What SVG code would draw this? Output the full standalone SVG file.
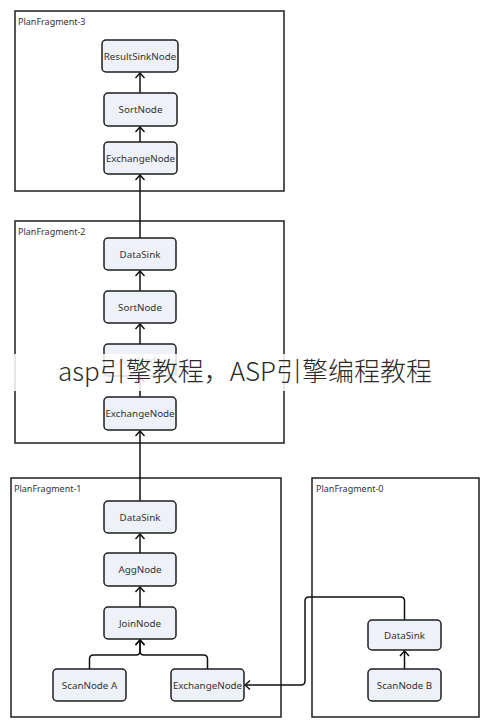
<svg xmlns="http://www.w3.org/2000/svg" width="490" height="728" viewBox="0 0 490 728">
<defs>
<style>
.frame{fill:none;stroke:#1e1e1e;stroke-width:1.5}
.flabel{font-family:"Noto Sans","Open Sans",sans-serif;font-size:9px;fill:#333}
.node rect{fill:#eef1f7;stroke:#1e1e1e;stroke-width:1.5}
.node text{font-family:"Noto Sans","Open Sans",sans-serif;font-size:9.8px;fill:#333;text-anchor:middle;dominant-baseline:central}
.conn{fill:none;stroke:#111;stroke-width:1.5;marker-end:url(#arr)}
.wm{font-family:"Noto Sans CJK SC","Noto Sans",sans-serif;font-size:26px;font-weight:300;fill:#2a2a2a}
</style>
<marker id="arr" viewBox="-7 -6 8 12" refX="0" refY="0" markerWidth="8" markerHeight="12" markerUnits="userSpaceOnUse" orient="auto">
<path d="M-5,-4.5 L0,0 L-5,4.5" fill="none" stroke="#111" stroke-width="1.5"/>
</marker>
</defs>
<rect width="490" height="728" fill="#fff"/>

<g id="fragment3">
<rect class="frame" x="15" y="11" width="269" height="180"/>
<text class="flabel" x="18" y="25">PlanFragment-3</text>
</g>
<g id="fragment2">
<rect class="frame" x="15" y="221" width="269" height="222"/>
<text class="flabel" x="18" y="235">PlanFragment-2</text>
</g>
<g id="fragment1">
<rect class="frame" x="11" y="478" width="270" height="239"/>
<text class="flabel" x="14" y="492">PlanFragment-1</text>
</g>
<g id="fragment0">
<rect class="frame" x="312" y="478" width="167" height="239"/>
<text class="flabel" x="316" y="492">PlanFragment-0</text>
</g>

<g id="connectors">
<path class="conn" d="M140,93 V73"/>
<path class="conn" d="M140,142 V127"/>
<path class="conn" d="M140,238 V175"/>
<path class="conn" d="M140,291 V271"/>
<path class="conn" d="M140,344 V324"/>
<path class="conn" d="M140,397 V377"/>
<path class="conn" d="M140,501 V431"/>
<path class="conn" d="M140,553 V534"/>
<path class="conn" d="M140,607 V587"/>
<path class="conn" d="M89.5,669 V659 Q89.5,655 93.5,655 H136 Q140,655 140,651 V640"/>
<path class="conn" d="M207.5,669 V659 Q207.5,655 203.5,655 H144 Q140,655 140,651 V640"/>
<path class="conn" d="M404.5,669 V651"/>
<path class="conn" d="M404.5,620 V601 Q404.5,597 400.5,597 H309 Q305,597 305,601 V681 Q305,685 301,685 H245"/>
</g>

<g id="n3-resultsink" class="node"><rect x="102" y="40" width="76" height="32" rx="4"/><text x="140" y="56">ResultSinkNode</text></g>
<g id="n3-sort" class="node"><rect x="104" y="93" width="73" height="33" rx="4"/><text x="140.5" y="109.5">SortNode</text></g>
<g id="n3-exchange" class="node"><rect x="104" y="142" width="73" height="32" rx="4"/><text x="140.5" y="158">ExchangeNode</text></g>

<g id="n2-datasink" class="node"><rect x="104" y="238" width="72" height="32" rx="4"/><text x="140" y="254">DataSink</text></g>
<g id="n2-sort" class="node"><rect x="104" y="291" width="72" height="32" rx="4"/><text x="140" y="307">SortNode</text></g>
<g id="n2-agg" class="node"><rect x="104" y="344" width="72" height="32" rx="4"/><text x="140" y="360">AggNode</text></g>
<g id="n2-exchange" class="node"><rect x="104" y="397" width="72" height="33" rx="4"/><text x="140" y="413.5">ExchangeNode</text></g>

<g id="n1-datasink" class="node"><rect x="104" y="501" width="72" height="32" rx="4"/><text x="140" y="517">DataSink</text></g>
<g id="n1-agg" class="node"><rect x="104" y="553" width="72" height="33" rx="4"/><text x="140" y="569.5">AggNode</text></g>
<g id="n1-join" class="node"><rect x="104" y="607" width="72" height="32" rx="4"/><text x="140" y="623">JoinNode</text></g>
<g id="n1-scanA" class="node"><rect x="53" y="669" width="73" height="32" rx="4"/><text x="89.5" y="685">ScanNode A</text></g>
<g id="n1-exchange" class="node"><rect x="171" y="669" width="73" height="32" rx="4"/><text x="207.5" y="685">ExchangeNode</text></g>

<g id="n0-datasink" class="node"><rect x="368" y="620" width="73" height="30" rx="4"/><text x="404.5" y="635">DataSink</text></g>
<g id="n0-scanB" class="node"><rect x="368" y="669" width="73" height="32" rx="4"/><text x="404.5" y="685">ScanNode B</text></g>

<g id="watermark">
<rect x="0" y="354" width="490" height="37" fill="#fff" fill-opacity="0.85"/>
<text class="wm" x="58" y="381">asp引擎教程，ASP引擎编程教程</text>
</g>
</svg>
